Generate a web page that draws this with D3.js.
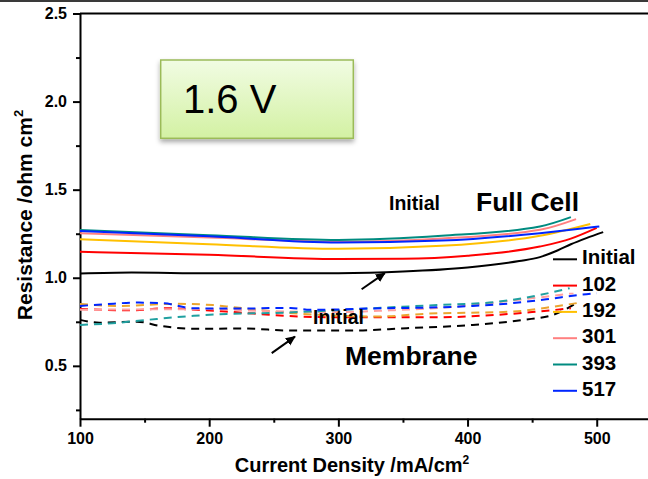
<!DOCTYPE html>
<html>
<head>
<meta charset="utf-8">
<script src="https://cdn.jsdelivr.net/npm/d3@7"></script>
<style>
  html, body { margin: 0; padding: 0; background: #fff; }
  svg { display: block; font-family: "Liberation Sans", Arial, sans-serif; }
</style>
</head>
<body>
<svg id="chart" width="648" height="479"></svg>
<script>
// ---- data (current density mA/cm2, resistance ohm cm2) ----
const fullInitial = [[100,1.024],[140,1.03],[200,1.025],[300,1.026],[350,1.035],[400,1.058],[440,1.095],[456,1.117],[470,1.156],[480,1.19],[492,1.225],[505,1.259]];
const full102 = [[100,1.147],[200,1.13],[300,1.107],[350,1.108],[400,1.125],[456,1.177],[480,1.222],[500,1.283]];
const full192 = [[100,1.219],[200,1.19],[300,1.164],[380,1.181],[456,1.238],[495,1.305]];
const full301 = [[100,1.253],[200,1.228],[300,1.205],[380,1.223],[456,1.272],[484,1.333]];
const full393 = [[100,1.271],[200,1.242],[300,1.215],[380,1.238],[456,1.291],[480,1.344]];
const full517 = [[100,1.265],[200,1.235],[300,1.2],[380,1.211],[456,1.253],[480,1.272],[502,1.291]];

const memInitial = [[100,0.761],[115,0.745],[144,0.751],[162,0.727],[188,0.71],[226,0.712],[265,0.70],[311,0.70],[353,0.714],[404,0.732],[443,0.761],[466,0.789],[485,0.86]];
const mem102 = [[100,0.823],[140,0.815],[167,0.827],[190,0.818],[213,0.808],[270,0.78],[300,0.776],[379,0.776],[417,0.787],[450,0.805],[480,0.827]];
const mem192 = [[100,0.851],[130,0.84],[175,0.852],[203,0.845],[219,0.833],[265,0.799],[303,0.784],[332,0.78],[366,0.795],[435,0.808],[461,0.83],[487,0.859]];
const mem301 = [[100,0.818],[200,0.822],[239,0.812],[300,0.805],[340,0.815],[380,0.83],[443,0.878],[482,0.912]];
const mem393 = [[100,0.732],[125,0.742],[152,0.761],[188,0.784],[214,0.795],[250,0.80],[278,0.808],[327,0.827],[379,0.846],[417,0.859],[446,0.888],[479,0.941]];
const mem517 = [[100,0.84],[120,0.85],[144,0.859],[165,0.855],[187,0.827],[220,0.825],[263,0.829],[278,0.818],[335,0.827],[365,0.83],[404,0.84],[435,0.856],[461,0.878],[492,0.907],[500,0.912]];

const seriesNames = ["Initial", "102", "192", "301", "393", "517"];
const seriesColors = ["#000000", "#ff0000", "#ffc000", "#ff8080", "#008b80", "#0026ff"];
const dashColors = ["#000000", "#ff0000", "#eba530", "#ffa0a0", "#20a0a0", "#0026ff"];
const fullCell = [fullInitial, full102, full192, full301, full393, full517];
const membrane = [memInitial, mem102, mem192, mem301, mem393, mem517];

const yTicks = [0.5, 1.0, 1.5, 2.0, 2.5];
const yMinor = [0.25, 0.75, 1.25, 1.75, 2.25];
const xTicks = [100, 200, 300, 400, 500];
const xMinor = [150, 250, 350, 450];

// annotations in data units
const arrows = [
  { from: [318, 0.935], to: [336, 1.026] },
  { from: [248.4, 0.572], to: [266.4, 0.666] },
];

const svg = d3.select("#chart");
const width = 648;
const height = 479;

const x = d3.scaleLinear().domain([100, 540]).range([80, 648.4]);
const y = d3.scaleLinear().domain([0.2, 2.5]).range([418.7, 13.5]);

svg.append("rect").attr("width", width).attr("height", height).attr("fill", "#fff");
// dark strip at the very top
svg.append("rect").attr("width", width).attr("height", 2).attr("fill", "#3a3a3a");

const defs = svg.append("defs");
const grad = defs.append("linearGradient").attr("id", "boxFill").attr("x1", 0).attr("y1", 0).attr("x2", 0).attr("y2", 1);
grad.append("stop").attr("offset", "0%").attr("stop-color", "#f1fce3");
grad.append("stop").attr("offset", "100%").attr("stop-color", "#d3f1a3");
const shadow = defs.append("filter").attr("id", "shadow").attr("x", "-20%").attr("y", "-20%").attr("width", "140%").attr("height", "150%");
shadow.append("feDropShadow").attr("dx", 0).attr("dy", 3).attr("stdDeviation", 2.5)
  .attr("flood-color", "#000").attr("flood-opacity", 0.35);
defs.append("marker")
  .attr("id", "arrowhead")
  .attr("viewBox", "0 -5 10 10")
  .attr("refX", 9)
  .attr("refY", 0)
  .attr("markerWidth", 5)
  .attr("markerHeight", 5)
  .attr("orient", "auto")
  .append("path")
  .attr("d", "M0,-4.5L10,0L0,4.5Z")
  .attr("fill", "#000");

// Axes
svg.append("g")
  .attr("transform", `translate(${x(100)},0)`)
  .call(d3.axisLeft(y).tickValues(yTicks).tickFormat(d3.format(".1f")).tickSize(7).tickSizeOuter(0).tickPadding(6));
svg.append("g")
  .attr("transform", `translate(${x(100)},0)`)
  .call(d3.axisLeft(y).tickValues(yMinor).tickFormat("").tickSize(4).tickSizeOuter(0))
  .call((g) => g.select(".domain").remove());

svg.append("g")
  .attr("transform", `translate(0,${y(0.2)})`)
  .call(d3.axisBottom(x).tickValues(xTicks).tickSize(8).tickSizeOuter(0).tickPadding(6));
svg.append("g")
  .attr("transform", `translate(0,${y(0.2)})`)
  .call(d3.axisBottom(x).tickValues(xMinor).tickFormat("").tickSize(4).tickSizeOuter(0))
  .call((g) => g.select(".domain").remove());

svg.selectAll(".domain, .tick line").attr("stroke", "#000").attr("stroke-width", 2);
svg.selectAll(".tick text")
  .attr("fill", "#000")
  .attr("font-size", 16)
  .attr("font-weight", 700)
  .attr("font-family", "Liberation Sans, Arial, sans-serif");

// top frame line
svg.append("line")
  .attr("x1", x(100)).attr("x2", width)
  .attr("y1", y(2.5)).attr("y2", y(2.5))
  .attr("stroke", "#000").attr("stroke-width", 2);

// Axis titles
const xTitle = svg.append("text")
  .attr("x", 352).attr("y", 472)
  .attr("text-anchor", "middle")
  .attr("font-size", 20).attr("font-weight", 700);
xTitle.append("tspan").text("Current Density /mA/cm");
xTitle.append("tspan").attr("font-size", 12).attr("dy", -8).text("2");

const yTitle = svg.append("text")
  .attr("transform", "translate(32,215) rotate(-90)")
  .attr("text-anchor", "middle")
  .attr("font-size", 21).attr("font-weight", 700);
yTitle.append("tspan").text("Resistance /ohm cm");
yTitle.append("tspan").attr("font-size", 13).attr("dy", -9).text("2");

// Lines
const line = d3.line()
  .x((d) => x(d[0]))
  .y((d) => y(d[1]))
  .curve(d3.curveMonotoneX);

const plot = svg.append("g");
membrane.forEach((data, i) => {
  plot.append("path")
    .datum(data)
    .attr("d", line)
    .attr("fill", "none")
    .attr("stroke", dashColors[i])
    .attr("stroke-width", 2)
    .attr("stroke-dasharray", "8,6");
});
fullCell.forEach((data, i) => {
  plot.append("path")
    .datum(data)
    .attr("d", line)
    .attr("fill", "none")
    .attr("stroke", seriesColors[i])
    .attr("stroke-width", 2);
});

// Arrows
arrows.forEach((a) => {
  svg.append("line")
    .attr("x1", x(a.from[0])).attr("y1", y(a.from[1]))
    .attr("x2", x(a.to[0])).attr("y2", y(a.to[1]))
    .attr("stroke", "#000").attr("stroke-width", 2)
    .attr("marker-end", "url(#arrowhead)");
});

// Annotation texts
svg.append("text").attr("x", 389).attr("y", 210)
  .attr("font-size", 19.5).attr("font-weight", 700).text("Initial");
svg.append("text").attr("x", 476).attr("y", 210.5)
  .attr("font-size", 26.5).attr("font-weight", 700).text("Full Cell");
svg.append("text").attr("x", 313).attr("y", 323.5)
  .attr("font-size", 19.5).attr("font-weight", 700).text("Initial");
svg.append("text").attr("x", 345).attr("y", 364.5)
  .attr("font-size", 26.5).attr("font-weight", 700).text("Membrane");

// Legend
const legend = svg.append("g").attr("transform", "translate(553,259.3)");
seriesNames.forEach((name, i) => {
  const g = legend.append("g").attr("transform", `translate(0,${i * 26.3})`);
  g.append("line").attr("x1", 0).attr("x2", 24).attr("stroke", seriesColors[i]).attr("stroke-width", 2);
  g.append("text").attr("x", 29).attr("y", 5)
    .attr("font-size", 20.5).attr("font-weight", 700).text(name);
});

// "1.6 V" box
const box = svg.append("g");
box.append("rect")
  .attr("x", 160.7).attr("y", 60)
  .attr("width", 192.6).attr("height", 78.3)
  .attr("fill", "url(#boxFill)")
  .attr("stroke", "#9bbb59").attr("stroke-width", 1.5)
  .attr("filter", "url(#shadow)");
box.append("text")
  .attr("x", 183).attr("y", 113.3)
  .attr("font-size", 40)
  .attr("font-family", "Liberation Sans, Arial, sans-serif")
  .text("1.6 V");
</script>
</body>
</html>
